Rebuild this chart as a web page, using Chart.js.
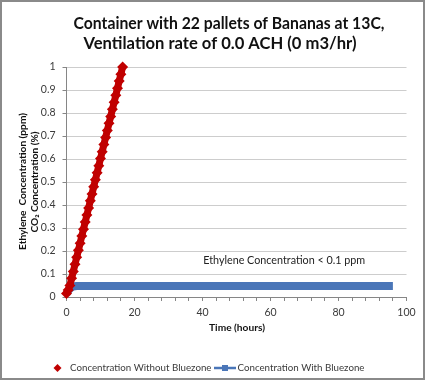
<!DOCTYPE html>
<html>
<head>
<meta charset="utf-8">
<script src="https://cdn.jsdelivr.net/npm/chart.js@4/dist/chart.umd.min.js"></script>
<style>
  html, body { margin: 0; padding: 0; background: #fff; }
  #wrap { width: 425px; height: 380px; position: relative; }
</style>
</head>
<body>
<div id="wrap"><canvas id="c" width="425" height="380"></canvas></div>
<script>
// ---- Data ----
const titleLines = ["Container with 22 pallets of Bananas at 13C,", "Ventilation rate of 0.0 ACH (0 m3/hr)"];
const yTitleLines = ["Ethylene  Concentration (ppm)", "CO\u2082 Concentration (%)"];
const xTitle = "Time (hours)";
const seriesNames = ["Concentration Without Bluezone", "Concentration With Bluezone"];
const noteText = "Ethylene Concentration < 0.1 ppm";
const noteAt = [40.2, 0.157];

const timeWithout = [0, 0.5, 1, 1.5, 2, 2.5, 3, 3.5, 4, 4.5, 5, 5.5, 6, 6.5, 7, 7.5, 8, 8.5, 9, 9.5, 10, 10.5, 11, 11.5, 12, 12.5, 13, 13.5, 14, 14.5, 15, 15.5, 16, 16.5];
const concWithout = [0.015, 0.03, 0.05, 0.081, 0.111, 0.142, 0.173, 0.203, 0.234, 0.265, 0.295, 0.326, 0.356, 0.387, 0.418, 0.448, 0.479, 0.51, 0.54, 0.571, 0.602, 0.632, 0.663, 0.694, 0.724, 0.755, 0.785, 0.816, 0.847, 0.877, 0.908, 0.939, 0.969, 1.0];

const timeWith = [0, 0.5, 1, 1.5, 2, 3, 4, 8, 12, 16, 20, 24, 28, 32, 36, 40, 44, 48, 52, 56, 60, 64, 68, 72, 76, 80, 84, 88, 92, 96];
const concWith = [0.015, 0.027, 0.036, 0.042, 0.046, 0.048, 0.048, 0.048, 0.048, 0.048, 0.048, 0.048, 0.048, 0.048, 0.048, 0.048, 0.048, 0.048, 0.048, 0.048, 0.048, 0.048, 0.048, 0.048, 0.048, 0.048, 0.048, 0.048, 0.048, 0.048];

const xMin = 0, xMax = 100, xStep = 4, xLabelEvery = 20;
const yMin = 0, yMax = 1, yStep = 0.1;

// ---- Styles ----
const RED = '#c00000';
const BLUE = '#4a76b8';
const FONT = 'Lato, "Open Sans", "DejaVu Sans", sans-serif';
const TXT = '#3b3b3b';
const CAP = 0.7165; // Lato cap-height ratio

// draw text with given cap height, horizontally squeezed to a target width
function drawFit(ctx, text, weight, capPx, targetW, x, y, align) {
  const size = capPx / CAP;
  ctx.font = weight + ' ' + size.toFixed(2) + 'px ' + FONT;
  const w = ctx.measureText(text).width;
  const k = targetW / w;
  ctx.save();
  ctx.translate(x, y);
  ctx.scale(k, 1);
  ctx.textAlign = align;
  ctx.fillText(text, 0, 0);
  ctx.restore();
}

const decor = {
  id: 'decor',
  beforeDraw(chart) {
    const ctx = chart.ctx;
    ctx.save();
    ctx.fillStyle = '#fff';
    ctx.fillRect(0, 0, chart.width, chart.height);
    ctx.restore();
  },
  afterDraw(chart) {
    const ctx = chart.ctx;
    const xs = chart.scales.x, ys = chart.scales.y;
    ctx.save();
    // frame
    ctx.strokeStyle = '#8a8a8a';
    ctx.lineWidth = 2;
    ctx.strokeRect(1, 1, chart.width - 2, chart.height - 2);

    // title
    ctx.fillStyle = '#111';
    ctx.textBaseline = 'alphabetic';
    drawFit(ctx, titleLines[0], 'bold', 12, 311, 229, 28.5, 'center');
    drawFit(ctx, titleLines[1], 'bold', 12, 273, 220, 48.5, 'center');

    // y title (rotated)
    ctx.textBaseline = 'middle';
    ctx.save();
    ctx.translate(23, 181.5);
    ctx.rotate(-Math.PI / 2);
    drawFit(ctx, yTitleLines[0], 'bold', 7.3, 137, 0, 0, 'center');
    ctx.restore();
    ctx.save();
    ctx.translate(34.5, 182);
    ctx.rotate(-Math.PI / 2);
    drawFit(ctx, yTitleLines[1], 'bold', 7.3, 101, 0, 0, 'center');
    ctx.restore();

    // x title
    drawFit(ctx, xTitle, 'bold', 7.3, 56, 237, 328, 'center');

    // note
    ctx.fillStyle = '#222';
    drawFit(ctx, noteText, 'normal', 7.8, 162, xs.getPixelForValue(noteAt[0]), ys.getPixelForValue(noteAt[1]), 'left');

    // legend
    const ly = 368;
    ctx.fillStyle = RED;
    ctx.beginPath();
    ctx.moveTo(57.5, ly - 4); ctx.lineTo(61.5, ly); ctx.lineTo(57.5, ly + 4); ctx.lineTo(53.5, ly);
    ctx.closePath(); ctx.fill();
    ctx.fillStyle = TXT;
    drawFit(ctx, seriesNames[0], 'normal', 7, 141.5, 70, ly, 'left');
    ctx.strokeStyle = BLUE; ctx.lineWidth = 2.5;
    ctx.beginPath(); ctx.moveTo(214, ly); ctx.lineTo(236, ly); ctx.stroke();
    ctx.fillStyle = BLUE;
    ctx.fillRect(222, ly - 3, 6, 6);
    ctx.fillStyle = TXT;
    drawFit(ctx, seriesNames[1], 'normal', 7, 127, 237.5, ly, 'left');
    ctx.restore();
  }
};

const ctx = document.getElementById('c').getContext('2d');
new Chart(ctx, {
  type: 'scatter',
  data: {
    datasets: [
      {
        label: seriesNames[0],
        data: timeWithout.map((t, i) => ({ x: t, y: concWithout[i] })),
        showLine: true,
        borderColor: RED,
        borderWidth: 7,
        backgroundColor: RED,
        pointStyle: 'rectRot',
        pointRadius: 5.5,
        pointBorderWidth: 0,
        pointBackgroundColor: RED,
        clip: false
      },
      {
        label: seriesNames[1],
        data: timeWith.map((t, i) => ({ x: t, y: concWith[i] })),
        showLine: true,
        borderColor: BLUE,
        borderWidth: 8,
        borderCapStyle: 'butt',
        borderJoinStyle: 'round',
        pointRadius: 0,
        pointStyle: 'rect',
        backgroundColor: BLUE,
        clip: false
      }
    ]
  },
  options: {
    responsive: false,
    animation: false,
    events: [],
    layout: { padding: { left: 0, right: 18.5, top: 67, bottom: 0 } },
    plugins: { legend: { display: false }, title: { display: false }, tooltip: { enabled: false } },
    scales: {
      x: {
        type: 'linear', min: xMin, max: xMax,
        afterFit: (sc) => { sc.height = 83; },
        grid: { drawOnChartArea: false, drawTicks: true, tickLength: 4, color: '#868686', tickColor: '#868686' },
        border: { color: '#868686', width: 1 },
        ticks: {
          stepSize: xStep, autoSkip: false, maxRotation: 0, padding: 5,
          color: TXT, font: { family: FONT, size: 10.5 },
          callback: (v) => (v % xLabelEvery === 0 ? String(v) : '')
        }
      },
      y: {
        type: 'linear', min: yMin, max: yMax,
        afterFit: (sc) => { sc.width = 66.5; },
        grid: { drawOnChartArea: true, drawTicks: true, tickLength: 4, color: '#cdcdcd', tickColor: '#868686' },
        border: { color: '#868686', width: 1 },
        ticks: {
          stepSize: yStep, padding: 7,
          color: TXT, font: { family: FONT, size: 10.5 },
          callback: (v) => String(Math.round(v * 10) / 10)
        }
      }
    }
  },
  plugins: [decor]
});
</script>
</body>
</html>
